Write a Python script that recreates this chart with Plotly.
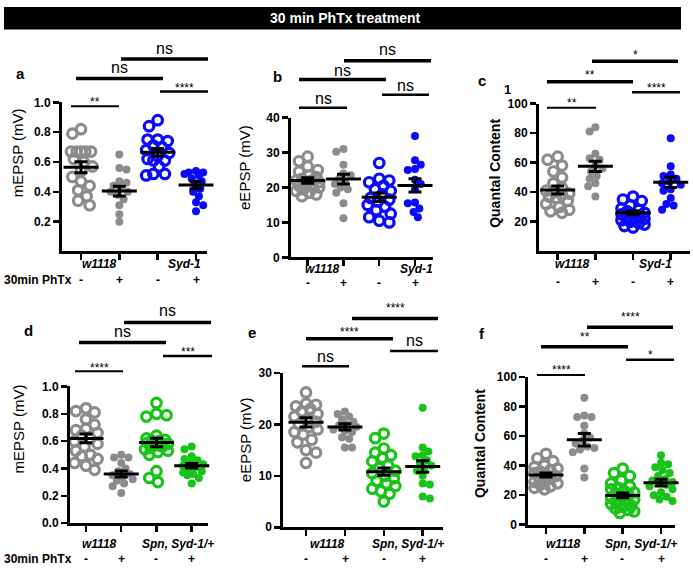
import plotly.graph_objects as go

W, H = 693, 573

# ---------------- data ----------------
treat_labels = ["-", "+", "-", "+"]
genotypes_top = ["w1118", "Syd-1"]
genotypes_bottom = ["w1118", "Spn, Syd-1/+"]

# panel a: mEPSP (mV), w1118 -/+, Syd-1 -/+
mepsp_syd = [
    [0.82, 0.79, 0.67, 0.67, 0.67, 0.67, 0.67, 0.62, 0.60, 0.57, 0.54, 0.50, 0.47, 0.44, 0.41, 0.37, 0.34, 0.31],
    [0.65, 0.56, 0.55, 0.47, 0.46, 0.44, 0.42, 0.40, 0.40, 0.38, 0.35, 0.31, 0.25, 0.20],
    [0.88, 0.84, 0.75, 0.75, 0.74, 0.71, 0.70, 0.68, 0.66, 0.64, 0.62, 0.61, 0.61, 0.57, 0.52, 0.52, 0.51],
    [0.54, 0.53, 0.53, 0.52, 0.51, 0.49, 0.47, 0.45, 0.42, 0.40, 0.37, 0.33, 0.31, 0.27],
]
mepsp_syd_mean = [0.565, 0.405, 0.665, 0.445]
mepsp_syd_sem = [0.037, 0.033, 0.025, 0.025]

# panel b: eEPSP (mV)
eepsp_syd = [
    [28.8, 27.5, 26.0, 25.0, 24.5, 23.5, 23.0, 22.5, 22.0, 22.0, 21.5, 21.0, 20.5, 20.0, 20.0, 19.5, 19.0, 18.5, 18.0, 17.5],
    [31.0, 30.2, 26.5, 24.0, 23.5, 22.5, 21.5, 21.0, 20.0, 19.5, 18.5, 15.5, 11.2],
    [27.0, 22.5, 22.0, 21.5, 20.5, 19.5, 19.0, 18.0, 17.0, 16.5, 16.0, 15.0, 14.5, 13.5, 12.5, 11.5, 10.5, 10.0],
    [34.7, 27.8, 26.5, 25.3, 25.0, 22.2, 21.0, 19.5, 15.7, 15.5, 14.0, 13.0, 11.5],
]
eepsp_syd_mean = [22.0, 22.4, 17.2, 20.6]
eepsp_syd_sem = [0.8, 1.4, 1.2, 1.9]

# panel c: quantal content
qc_syd = [
    [64, 62, 58, 54, 50, 46, 43, 41, 40, 39, 38, 37, 36, 34, 32, 30, 28, 27, 26],
    [84, 81, 66, 63, 62, 58, 56, 54, 51, 49, 46, 44, 37],
    [37, 35, 34, 31, 29, 28, 27, 26, 25, 25, 24, 23, 22, 22, 21, 20, 19, 18, 17, 16],
    [76.5, 57.5, 52, 51, 49, 47, 46, 45, 42, 41, 36, 32, 31, 28],
]
qc_syd_mean = [41.5, 57.5, 26.0, 46.7]
qc_syd_sem = [2.7, 3.5, 1.3, 3.5]

# panel d: mEPSP (mV), w1118 -/+, Spn,Syd-1/+ -/+
mepsp_spn = [
    [0.84, 0.82, 0.81, 0.76, 0.72, 0.69, 0.68, 0.66, 0.64, 0.62, 0.60, 0.58, 0.56, 0.53, 0.50, 0.49, 0.47, 0.44, 0.42, 0.39],
    [0.50, 0.48, 0.48, 0.44, 0.40, 0.38, 0.36, 0.35, 0.34, 0.32, 0.31, 0.29, 0.27, 0.22],
    [0.88, 0.80, 0.79, 0.78, 0.64, 0.62, 0.61, 0.60, 0.60, 0.59, 0.58, 0.57, 0.56, 0.55, 0.54, 0.53, 0.52, 0.50, 0.38, 0.33, 0.30],
    [0.56, 0.54, 0.49, 0.47, 0.46, 0.44, 0.43, 0.42, 0.41, 0.40, 0.38, 0.37, 0.36, 0.35, 0.33, 0.29],
]
mepsp_spn_mean = [0.62, 0.36, 0.59, 0.42]
mepsp_spn_sem = [0.032, 0.022, 0.032, 0.017]

# panel e: eEPSP (mV)
eepsp_spn = [
    [26.2, 24.0, 23.8, 23.5, 23.0, 22.5, 22.0, 21.5, 21.0, 20.5, 20.0, 19.5, 19.0, 18.5, 18.0, 17.0, 16.5, 15.0, 14.5, 12.5],
    [22.5, 22.0, 21.5, 21.0, 20.5, 20.0, 19.8, 19.5, 19.0, 18.7, 18.5, 17.5, 17.2, 15.5, 15.5],
    [18.2, 17.3, 15.3, 14.5, 14.0, 13.5, 12.8, 12.0, 11.5, 11.0, 10.5, 10.0, 9.5, 9.0, 8.5, 8.0, 7.5, 7.0, 6.5, 5.0],
    [23.2, 15.5, 14.7, 14.0, 13.8, 13.0, 12.5, 12.0, 11.5, 11.0, 10.0, 8.5, 8.3, 6.0, 5.6],
]
eepsp_spn_mean = [20.4, 19.5, 10.8, 11.8]
eepsp_spn_sem = [0.9, 0.6, 0.7, 1.1]

# panel f: quantal content
qc_spn = [
    [48, 45, 43, 40, 39, 38, 37, 36, 35, 34, 33, 32, 31, 30, 29, 28, 27, 26, 25, 24],
    [86, 74, 73, 73, 67, 62, 59, 57, 55, 53, 52, 51, 49, 38, 32],
    [38, 35, 33, 30, 28, 26, 25, 24, 23, 22, 21, 20, 19, 18, 17, 16, 15, 14, 13, 12, 11, 10, 9, 8],
    [47, 42, 41, 39, 37, 35, 33, 31, 30, 29, 28, 27, 26, 24, 22, 20, 19, 17, 16],
]
qc_spn_mean = [33.7, 57.5, 19.8, 28.5]
qc_spn_sem = [1.4, 4.2, 1.6, 2.3]

# significance labels per panel (order: left short, long middle, long top, right short)
sig_a = ["**", "ns", "ns", "****"]
sig_b = ["ns", "ns", "ns", "ns"]
sig_c = ["**", "**", "*", "****"]
sig_d = ["****", "ns", "ns", "***"]
sig_e = ["ns", "****", "****", "ns"]
sig_f = ["****", "**", "****", "*"]

# ---------------- layout / style ----------------
FONT = "Liberation Sans, Arial, sans-serif"
GRAY = "#8c8c8c"
BLUE = "#0a0aff"
GREEN = "#18c418"

panels = [
    dict(letter="a", vals=mepsp_syd, mean=mepsp_syd_mean, sem=mepsp_syd_sem, sig=sig_a, col=BLUE,
         cats=[81, 119.3, 157.6, 196], left=62, right=207, y0=250.6, ytop=97.7, ymax=1.0,
         tickvals=[0.2, 0.4, 0.6, 0.8, 1.0], ticktext=["0.2", "0.4", "0.6", "0.8", "1.0"],
         title="mEPSP (mV)", tpos=(17, 150), bold_title=False, letter_pos=(20, 68),
         br=[(71, 119, 101.7, 95, 2), (76, 163, 73.3, 63, 3.5), (121, 208, 53.3, 44, 3.5), (160, 208, 86.7, 80, 2.5)],
         glab=genotypes_top, glab_pos=[(100, 263), (184, 263)], tr_y=280, show_phtx=True),
    dict(letter="b", vals=eepsp_syd, mean=eepsp_syd_mean, sem=eepsp_syd_sem, sig=sig_b, col=BLUE,
         cats=[307.7, 343.3, 379, 415], left=291, right=433, y0=256.7, ytop=113.3, ymax=40,
         tickvals=[0, 10, 20, 30, 40], ticktext=["0", "10", "20", "30", "40"],
         title="eEPSP (mV)", tpos=(245, 165), bold_title=False, letter_pos=(277, 71),
         br=[(299, 347, 103.3, 95, 2.5), (299, 386, 74.3, 66, 3.5), (344, 431, 55, 45, 3.5), (382, 429, 90, 82, 2.5)],
         glab=genotypes_top, glab_pos=[(322, 269), (416, 269)], tr_y=283, show_phtx=False),
    dict(letter="c", vals=qc_syd, mean=qc_syd_mean, sem=qc_syd_sem, sig=sig_c, col=BLUE,
         cats=[557.7, 595, 632.7, 670.7], left=539, right=690, y0=250.3, ytop=99, ymax=100,
         tickvals=[20, 40, 60, 80, 100], ticktext=["20", "40", "60", "80", "100"],
         title="Quantal Content", tpos=(495, 171), bold_title=True, letter_pos=(482, 75),
         br=[(547, 596, 103.3, 96, 2), (547, 633, 76.7, 67, 3.5), (592, 678, 55.7, 47, 3.5), (632, 680, 87.3, 80, 2.5)],
         glab=genotypes_top, glab_pos=[(572, 263), (655, 263)], tr_y=282, show_phtx=False),
    dict(letter="d", vals=mepsp_spn, mean=mepsp_spn_mean, sem=mepsp_spn_sem, sig=sig_d, col=GREEN,
         cats=[86, 121, 156, 191.7], left=70, right=208, y0=529, ytop=389, ymax=1.0,
         tickvals=[0, 0.2, 0.4, 0.6, 0.8, 1.0], ticktext=["0.0", "0.2", "0.4", "0.6", "0.8", "1.0"],
         title="mEPSP (mV)", tpos=(18, 433), bold_title=False, letter_pos=(28, 332),
         br=[(75, 123, 373.3, 367, 2), (79, 166, 344, 334, 3.5), (124, 211, 323.3, 313, 3.5), (163, 212, 357.7, 351, 2.5)],
         glab=genotypes_bottom, glab_pos=[(99, 550), (178, 550)], tr_y=566, show_phtx=True),
    dict(letter="e", vals=eepsp_spn, mean=eepsp_spn_mean, sem=eepsp_spn_sem, sig=sig_e, col=GREEN,
         cats=[306, 345, 384, 422.7], left=283.3, right=443, y0=533.3, ytop=375, ymax=30,
         tickvals=[0, 10, 20, 30], ticktext=["0", "10", "20", "30"],
         title="eEPSP (mV)", tpos=(245, 444), bold_title=False, letter_pos=(252, 334),
         br=[(302, 349, 368.3, 360, 2.5), (306, 393, 340, 331, 3.5), (352, 438, 319.3, 306, 3.5), (390, 438, 352.7, 343, 2.5)],
         glab=genotypes_bottom, glab_pos=[(327, 550), (408, 550)], tr_y=566, show_phtx=False),
    dict(letter="f", vals=qc_spn, mean=qc_spn_mean, sem=qc_spn_sem, sig=sig_f, col=GREEN,
         cats=[546, 584, 622.3, 661], left=528.3, right=675, y0=530.7, ytop=379.3, ymax=100,
         tickvals=[0, 20, 40, 60, 80, 100], ticktext=["0", "20", "40", "60", "80", "100"],
         title="Quantal Content", tpos=(480, 448), bold_title=True, letter_pos=(482, 335),
         br=[(537, 585, 377.3, 370, 2), (541, 628, 348.3, 336, 3.5), (587, 673, 328.3, 315, 3.5), (626, 674, 361.7, 354, 2.5)],
         glab=genotypes_bottom, glab_pos=[(563, 550), (641, 550)], tr_y=566, show_phtx=False),
]

OPEN_SIZE, OPEN_LW = 9.5, 3.2
FILL_SIZE = 8
MAX_SPREAD = 11.5   # px, half-width of the point cloud


def px_x(px):
    return px / W


def px_y(py):
    return 1 - py / H


def swarm(vals, ppu, diam):
    """Deterministic compact beeswarm: horizontal offsets in px."""
    offs = [0.0] * len(vals)
    placed = []
    order = sorted(range(len(vals)), key=lambda i: -vals[i])
    nstep = 8
    cands = [0.0]
    for j in range(1, nstep + 1):
        d = MAX_SPREAD * j / nstep
        cands += [d, -d]
    thr = diam * 0.75
    for n, i in enumerate(order):
        y = vals[i] * ppu
        flip = 1 if n % 2 == 0 else -1
        best, best_d = None, -1
        for c in cands:
            x = c * flip
            dmin = min([((x - a) ** 2 + (y - b) ** 2) ** 0.5 for a, b in placed] or [1e9])
            if dmin >= thr:
                best = x
                break
            if dmin > best_d:
                best, best_d = x, dmin
        placed.append((best, y))
        offs[i] = best
    return offs


fig = go.Figure()
shapes = []
annotations = []

for k, p in enumerate(panels):
    idx = "" if k == 0 else str(k + 1)
    xa, ya = "x" + idx, "y" + idx
    c0 = p["cats"][0]
    s = (p["cats"][3] - p["cats"][0]) / 3
    ppu = (p["y0"] - p["ytop"]) / p["ymax"]
    colors = [GRAY, GRAY, p["col"], p["col"]]
    for g in range(4):
        vals = p["vals"][g]
        is_open = g % 2 == 0
        diam = (OPEN_SIZE + OPEN_LW) if is_open else FILL_SIZE + 1
        offs = swarm(vals, ppu, diam)
        xs = [g + o / s for o in offs]
        if is_open:
            marker = dict(symbol="circle-open", size=OPEN_SIZE, color=colors[g],
                          line=dict(width=OPEN_LW, color=colors[g]))
        else:
            marker = dict(symbol="circle", size=FILL_SIZE, color=colors[g], line=dict(width=0))
        fig.add_trace(go.Scatter(x=xs, y=vals, mode="markers", marker=marker,
                                 xaxis=xa, yaxis=ya, cliponaxis=False, showlegend=False,
                                 hoverinfo="y"))
    # mean +/- SEM
    fig.add_trace(go.Scatter(
        x=[0, 1, 2, 3], y=p["mean"], mode="markers",
        marker=dict(symbol="line-ew", size=25, color="black", line=dict(width=3, color="black")),
        error_y=dict(type="data", array=p["sem"], color="black", thickness=3, width=6.5),
        xaxis=xa, yaxis=ya, cliponaxis=False, showlegend=False, hoverinfo="y"))

    xr = [(p["left"] - c0) / s, (p["right"] - c0) / s]
    axis_common = dict(showgrid=False, zeroline=False, showline=True, linecolor="black",
                       linewidth=3, ticks="outside", tickwidth=2.5, ticklen=6, tickcolor="black")
    fig.update_layout(**{
        "xaxis" + idx: dict(domain=[px_x(p["left"]), px_x(p["right"])], range=xr, anchor=ya,
                             tickvals=[0, 1, 2, 3], ticktext=["", "", "", ""], fixedrange=True,
                             **axis_common),
        "yaxis" + idx: dict(domain=[px_y(p["y0"]), px_y(p["ytop"])], range=[0, p["ymax"]], anchor=xa,
                             tickvals=p["tickvals"], ticktext=p["ticktext"], fixedrange=True,
                             tickfont=dict(family=FONT, size=12, color="black", weight="bold"),
                             **axis_common),
    })

    # significance brackets
    for (x1, x2, yb, ty, lw), lab in zip(p["br"], p["sig"]):
        shapes.append(dict(type="line", xref="paper", yref="paper",
                           x0=px_x(x1), x1=px_x(x2), y0=px_y(yb), y1=px_y(yb),
                           line=dict(color="black", width=lw)))
        is_star = "*" in lab
        annotations.append(dict(
            x=px_x((x1 + x2) / 2), y=px_y(ty + (2.6 if is_star else -1.4)),
            xref="paper", yref="paper", text=lab, showarrow=False,
            xanchor="center", yanchor="middle",
            font=dict(family=FONT, size=12 if is_star else 16, color="black")))

    # y axis title
    annotations.append(dict(
        x=px_x(p["tpos"][0]), y=px_y(p["tpos"][1]), xref="paper", yref="paper",
        text=p["title"], textangle=-90, showarrow=False, xanchor="center", yanchor="middle",
        font=dict(family=FONT, size=14 if p["bold_title"] else 15, color="black",
                  weight="bold" if p["bold_title"] else "normal")))
    # panel letter
    annotations.append(dict(
        x=px_x(p["letter_pos"][0]), y=px_y(p["letter_pos"][1]), xref="paper", yref="paper",
        text=p["letter"], showarrow=False, xanchor="center", yanchor="middle",
        font=dict(family=FONT, size=15, color="black", weight="bold")))
    # genotype labels
    for lab, (gx, gy) in zip(p["glab"], p["glab_pos"]):
        annotations.append(dict(
            x=px_x(gx), y=px_y(gy), xref="paper", yref="paper", text="<i>" + lab + "</i>",
            showarrow=False, xanchor="center", yanchor="middle",
            font=dict(family=FONT, size=12, color="black", weight="bold")))
    # treatment signs
    for cx, t in zip(p["cats"], treat_labels):
        annotations.append(dict(
            x=px_x(cx), y=px_y(p["tr_y"]), xref="paper", yref="paper", text=t,
            showarrow=False, xanchor="center", yanchor="middle",
            font=dict(family=FONT, size=12, color="black", weight="bold")))
    if p["show_phtx"]:
        annotations.append(dict(
            x=px_x(2), y=px_y(p["tr_y"]), xref="paper", yref="paper", text="30min PhTx",
            showarrow=False, xanchor="left", yanchor="middle",
            font=dict(family=FONT, size=12, color="black", weight="bold")))

# extra "1" label in panel c
annotations.append(dict(x=px_x(507), y=px_y(85), xref="paper", yref="paper", text="1",
                        showarrow=False, xanchor="center", yanchor="middle",
                        font=dict(family=FONT, size=13, color="black", weight="bold")))

# title bar
shapes.append(dict(type="rect", xref="paper", yref="paper", x0=px_x(4), x1=px_x(681),
                   y0=px_y(23), y1=px_y(0), fillcolor="black", line=dict(width=0), layer="below"))
annotations.append(dict(x=px_x(345), y=px_y(11), xref="paper", yref="paper",
                        text="30 min PhTx treatment", showarrow=False,
                        xanchor="center", yanchor="middle",
                        font=dict(family=FONT, size=14, color="white", weight="bold")))

fig.update_layout(width=W, height=H, margin=dict(l=0, r=0, t=0, b=0),
                  paper_bgcolor="white", plot_bgcolor="white",
                  shapes=shapes, annotations=annotations, showlegend=False)

fig.write_html("out.html", config={"displayModeBar": False, "staticPlot": True},
               post_script="document.body.style.margin='0';document.body.style.overflow='hidden';")
